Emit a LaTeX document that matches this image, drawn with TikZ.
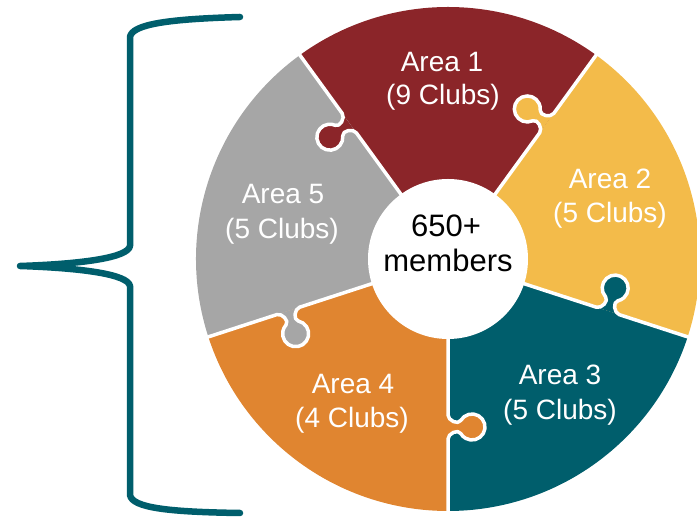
\documentclass[tikz,border=0pt]{standalone}
\usepackage{fontspec}
\setmainfont{Liberation Sans}
\definecolor{cRed}{RGB}{139,37,41}
\definecolor{cYel}{RGB}{243,187,74}
\definecolor{cTeal}{RGB}{0,94,108}
\definecolor{cOra}{RGB}{224,133,48}
\definecolor{cGray}{RGB}{166,166,166}
\begin{document}
\begin{tikzpicture}[x=1pt,y=1pt,
  lbl/.style={text=white, font=\fontsize{28}{33}\selectfont, inner sep=0pt, anchor=base},
  ctrlbl/.style={text=black, font=\fontsize{31}{35}\selectfont, inner sep=0pt, anchor=base},
  sep/.style={draw=white, line width=3.5pt, line join=round},
  bracestyle/.style={draw=cTeal, line width=6.5pt, line cap=round, line join=round}]
\useasboundingbox (0,0) rectangle (697,518);
\clip (0,0) rectangle (697,518);
\coordinate (C) at (448,259);
% sectors
\foreach \a/\b/\c in {54/126/cRed, -18/54/cYel, -90/-18/cTeal, 198/270/cOra, 126/198/cGray}
  \fill[\c] (C) -- ++(\a:252) arc[start angle=\a, end angle=\b, radius=252] -- cycle;
% puzzle tabs and separators
\foreach \t/\c in {126/cRed, 54/cYel, -18/cTeal, -90/cOra, 198/cGray}{
  \begin{scope}[shift={(C)}, rotate=\t]
    \fill[\c] (156,0) to[out=0,in=-30] (161.5,12.74)
      arc[start angle=240, end angle=-60, radius=13]
      to[out=-150,in=180] (180,0) -- cycle;
    \draw[sep] (70,0) -- (156,0) to[out=0,in=-30] (161.5,12.74)
      arc[start angle=240, end angle=-60, radius=13]
      to[out=-150,in=180] (180,0) -- (258,0);
  \end{scope}}
% centre
\node[circle, fill=white, draw=white, line width=2pt, minimum size=158pt, inner sep=0pt] (ctr) at (C) {};
\node[ctrlbl] (n650) at (446,281) {650+};
\node[ctrlbl] (nmem) at (448,246) {members};
% labels
\node[lbl] (a1a) at (442,446) {Area 1};
\node[lbl] (a1b) at (443,413) {(9 Clubs)};
\node[lbl] (a2a) at (610,329) {Area 2};
\node[lbl] (a2b) at (610,295) {(5 Clubs)};
\node[lbl] (a3a) at (560,133) {Area 3};
\node[lbl] (a3b) at (560,98) {(5 Clubs)};
\node[lbl] (a4a) at (353,124) {Area 4};
\node[lbl] (a4b) at (352,90) {(4 Clubs)};
\node[lbl] (a5a) at (283,314) {Area 5};
\node[lbl] (a5b) at (282,279) {(5 Clubs)};
% brace
\draw[bracestyle] (240,501) .. controls (170,499) and (132,494) .. (130,481)
  -- (130,272) .. controls (128,260) and (80,254) .. (20,252)
  .. controls (80,250) and (128,244) .. (130,232)
  -- (130,23) .. controls (132,10) and (170,6) .. (240,5);
\end{tikzpicture}
\end{document}
